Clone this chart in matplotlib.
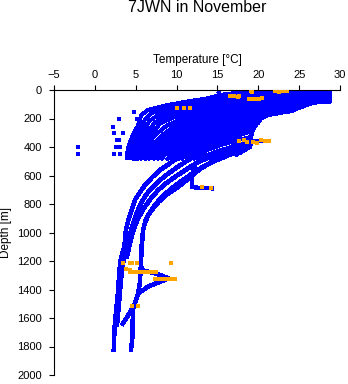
import matplotlib
matplotlib.use("Agg")
import matplotlib.pyplot as plt

plt.rcParams['font.family'] = ['Liberation Sans', 'DejaVu Sans']

title = "7JWN in November"
x_label = "Temperature [°C]"
y_label = "Depth [m]"
x_ticks = [-5, 0, 5, 10, 15, 20, 25, 30]
y_ticks = [0, 200, 400, 600, 800, 1000, 1200, 1400, 1600, 1800, 2000]

# upper-layer profiles (temperature, depth)
upper_profiles = [
    [(19.6, 0), (17, 22), (15.3, 35), (13.8, 58), (11.2, 82), (8.5, 110), (6.5, 140), (5.7, 175), (5.3, 246), (4.8, 300), (4.4, 350), (4.1, 400), (3.9, 456), (3.9, 490)],
    [(20.5, 0), (18, 30), (15.5, 55), (13, 85), (10.5, 110), (8.5, 135), (7.0, 160), (6.2, 200), (5.7, 260), (5.2, 320), (4.7, 380), (4.3, 440), (4.2, 490)],
    [(21.4, 0), (19, 30), (16.5, 60), (14, 90), (11.5, 120), (9.5, 145), (7.8, 175), (6.7, 215), (6.0, 280), (5.4, 340), (4.9, 400), (4.6, 460), (4.5, 490)],
    [(22.3, 0), (20, 30), (17.5, 65), (15, 95), (12.5, 130), (10.5, 155), (8.7, 185), (7.4, 225), (6.5, 290), (5.8, 350), (5.2, 410), (4.9, 470), (4.8, 490)],
    [(23.2, 0), (21, 30), (18.5, 65), (16, 100), (13.5, 135), (11.5, 165), (9.5, 195), (8.0, 235), (7.0, 300), (6.2, 360), (5.6, 420), (5.2, 480), (5.1, 490)],
    [(24.1, 0), (22, 30), (19.5, 65), (17, 100), (14.5, 140), (12.5, 170), (10.5, 205), (8.8, 250), (7.5, 310), (6.6, 370), (6.0, 430), (5.5, 490)],
    [(25.0, 0), (23, 30), (20.5, 70), (18, 105), (15.5, 145), (13.5, 175), (11.5, 210), (9.6, 260), (8.2, 320), (7.0, 385), (6.3, 440), (6.0, 490)],
    [(25.9, 0), (24.5, 20), (22, 55), (19.5, 90), (17, 125), (14.5, 160), (12.5, 195), (10.5, 235), (9.0, 285), (7.8, 340), (6.8, 400), (6.3, 450), (6.1, 490)],
    [(26.8, 0), (25.5, 20), (23, 55), (20.5, 90), (18, 125), (15.5, 160), (13.5, 200), (11.5, 240), (9.8, 290), (8.4, 350), (7.3, 410), (6.7, 470), (6.5, 490)],
    [(27.7, 0), (26.5, 20), (24, 55), (21.5, 90), (19, 125), (16.5, 165), (14.5, 200), (12.5, 245), (10.5, 300), (9.0, 360), (7.8, 420), (7.1, 490)],
    [(28.6, 0), (28.6, 10), (27, 30), (24.5, 65), (22, 100), (19.5, 135), (17, 170), (15, 205), (13, 250), (11, 305), (9.5, 365), (8.3, 425), (7.6, 490)],
    [(28.8, 0), (28.8, 30), (27, 55), (24.5, 90), (22, 125), (19.5, 160), (17, 195), (15, 235), (13, 280), (11.2, 330), (9.7, 390), (8.6, 450), (8.1, 490)],
    [(28.8, 0), (28.8, 55), (27, 75), (24.5, 110), (22, 145), (19.8, 175), (17.5, 210), (15.5, 250), (13.5, 295), (11.8, 345), (10.2, 405), (9.2, 460), (8.8, 490)],
    [(28.8, 0), (28.8, 82), (27.2, 86), (25.9, 103), (24.9, 126), (23.9, 150), (21.5, 170), (19.5, 200), (17.5, 235), (15.5, 275), (13.5, 320), (11.8, 370), (10.5, 420), (9.6, 470), (9.3, 490)],
    [(28.0, 0), (28.0, 60), (26.5, 95), (25, 125), (23.5, 150), (21.5, 165), (20.2, 190), (18.5, 225), (16.5, 260), (14.5, 300), (12.5, 345), (11, 400), (10, 460), (9.8, 490)],
    [(27.5, 0), (27.5, 65), (25.5, 110), (24, 140), (21, 165), (20.2, 200), (19, 225), (17, 255), (15, 290), (13, 335), (11.5, 390), (10.5, 450), (10.2, 490)],
    [(27.0, 0), (27.0, 70), (24, 150), (20.4, 170), (20.2, 215), (19.4, 243), (17.5, 275), (15.5, 310), (13.5, 350), (12, 400), (11, 450), (10.6, 490)],
    [(26.5, 0), (26.5, 80), (24, 145), (20.3, 175), (20.0, 230), (19.3, 265), (17.5, 295), (15.5, 330), (13.8, 370), (12.3, 420), (11.4, 470), (11.2, 490)],
    [(26.0, 0), (26.0, 90), (24, 140), (20.3, 180), (19.6, 240), (19.2, 290), (17.5, 320), (15.5, 355), (13.5, 395), (12, 440), (11.5, 490)],
    [(25.8, 0), (25.8, 95), (23.8, 150), (20.3, 185), (19.5, 250), (19.2, 310), (19.1, 330), (17.5, 350), (15.5, 385), (13.8, 420), (12.6, 460), (12, 490)],
    [(25.5, 0), (25.5, 100), (23, 150), (20.2, 190), (19.4, 250), (19.1, 300), (19.0, 360), (17.5, 390), (15.5, 420), (13.8, 455), (12.5, 490)],
    [(25.2, 0), (25.2, 110), (22.5, 155), (20.2, 195), (19.3, 270), (19.0, 340), (19.0, 380), (18, 400), (17, 420), (15.5, 445), (14, 475), (13.2, 495)],
    [(21.0, 355), (19.5, 360), (18.5, 375), (18.8, 400), (18.0, 430), (17.2, 460)],
    [(15.3, 0), (15.1, 20)],
    [(17.0, 5), (17.0, 40)],
    [(16.8, 5), (16.8, 45)],
]

# deep profiles (temperature, depth)
deep_profiles = [
    [(14.5, 330), (12.5, 390), (11, 440), (9.8, 490), (9.2, 514), (8.0, 561), (7.1, 608), (6.3, 655), (5.7, 702), (4.9, 772), (4.5, 842), (4.1, 912), (3.8, 982), (3.7, 1050), (3.6, 1100), (3.3, 1160), (3.1, 1207), (2.95, 1310), (2.85, 1404), (2.6, 1550), (2.45, 1636), (2.35, 1750), (2.3, 1836)],
    [(16, 350), (14, 410), (12.3, 460), (11.2, 500), (10.0, 545), (8.9, 590), (7.9, 635), (7.0, 685), (6.2, 740), (5.5, 810), (5.0, 880), (4.6, 950), (4.3, 1010), (4.0, 1080), (3.7, 1150), (3.45, 1220), (3.25, 1300), (3.1, 1400), (2.95, 1500), (2.8, 1590), (2.7, 1660)],
    [(17.5, 380), (15.5, 430), (13.5, 480), (12.2, 520), (11.0, 565), (9.8, 610), (8.7, 655), (7.7, 705), (6.8, 765), (6.0, 830), (5.3, 900), (4.8, 970), (4.5, 1030), (4.2, 1100), (3.9, 1180)],
    [(18.5, 410), (16.5, 455), (14.8, 495), (13.5, 530), (12.3, 570), (11.2, 615), (10.2, 655), (9.2, 700), (8.2, 750), (7.3, 810), (6.6, 870), (6.1, 930)],
    [(25.0, 0), (25.0, 120), (22, 155), (20.2, 200), (19.2, 290), (19.0, 398), (17.7, 442), (14.9, 468), (14.1, 512), (13, 550), (12, 595), (11.2, 635), (10.2, 680), (9.0, 725), (7.8, 785), (7.0, 840), (6.5, 880), (6.1, 940), (5.9, 982), (5.8, 1050), (5.7, 1100), (5.65, 1200), (5.6, 1263), (5.5, 1357), (5.3, 1427), (4.9, 1497), (4.7, 1530), (4.6, 1650), (4.6, 1731), (4.4, 1836)],
    [(5.9, 982), (5.75, 1100), (5.65, 1200), (5.7, 1263), (7.5, 1288), (9.0, 1322), (8.0, 1345), (6.5, 1380), (5.3, 1428), (4.9, 1497), (4.1, 1579), (3.3, 1650)],
    [(12.3, 520), (11.9, 596), (11.9, 680), (12.5, 686), (14.5, 690)],
]

# isolated blue points
stray_temps = [-2.1, -2.1, 2.2, 2.4, 3.45, 2.65, 3.0, 2.6, 3.1, 2.3, 3.1, 2.97, 4.8, 5.1, 8.0]
stray_depths = [402, 449, 257, 304, 304, 351, 351, 402, 402, 451, 451, 204, 152, 206, 129]

# flagged (orange) points
flag_temps = [16.5, 17.0, 17.5, 17.7, 18.9, 19.3, 19.7, 20.1, 20.5, 19.1, 19.2, 22.0, 22.5, 23.0, 23.5,
              10.0, 10.9, 11.6,
              17.6, 18.2, 18.6, 19.4, 19.8, 20.3, 20.8, 21.3,
              13.1, 14.2,
              3.5, 3.75, 4.3, 4.6, 5.1, 9.3, 4.3,
              4.3, 4.7, 5.1, 5.5, 5.9, 6.3, 6.7, 7.1, 7.5,
              7.3, 7.7, 8.1, 8.5, 8.9, 9.3, 9.8,
              4.6, 5.3]
flag_depths = [45, 40, 50, 45, 60, 62, 60, 62, 58, 5, 15, 5, 12, 8, 10,
               129, 129, 129,
               355, 350, 365, 362, 370, 352, 356, 358,
               683, 688,
               1216, 1258, 1216, 1216, 1216, 1216, 1263,
               1280, 1280, 1280, 1280, 1280, 1280, 1280, 1280, 1280,
               1328, 1328, 1328, 1328, 1328, 1328, 1328,
               1516, 1516]

fig = plt.figure(figsize=(3.48, 3.84), dpi=100)
ax = fig.add_axes([54 / 348, 1 - 375 / 384, (340 - 54) / 348, (375 - 90) / 384])

blue = '#0000FF'
for prof in upper_profiles:
    ts = [p[0] for p in prof]
    ds = [p[1] for p in prof]
    ax.plot(ts, ds, color=blue, lw=2.1, solid_capstyle='butt',
            solid_joinstyle='round', antialiased=False, zorder=2)
for prof in deep_profiles:
    ts = [p[0] for p in prof]
    ds = [p[1] for p in prof]
    ax.plot(ts, ds, color=blue, lw=2.5, solid_capstyle='butt',
            solid_joinstyle='round', antialiased=False, zorder=2)
ax.plot(stray_temps, stray_depths, 's', color=blue, ms=2.2, mew=0,
        antialiased=False, zorder=2)
ax.plot(flag_temps, flag_depths, 's', color='#FFA500', ms=2.4, mew=0,
        antialiased=False, zorder=3)

ax.set_xlim(-5, 30)
ax.set_ylim(2000, 0)
ax.spines['right'].set_visible(False)
ax.spines['bottom'].set_visible(False)
ax.spines['top'].set_linewidth(0.8)
ax.spines['left'].set_linewidth(0.8)
ax.xaxis.tick_top()
ax.set_xticks(x_ticks)
ax.set_yticks(y_ticks)
ax.tick_params(axis='x', direction='out', length=3.6, width=0.8, pad=3.5, labelsize=8)
ax.tick_params(axis='y', direction='out', length=3.6, width=0.8, pad=5, labelsize=8)

ax.set_xlabel(x_label, fontsize=8.5)
ax.xaxis.set_label_position('top')
ax.xaxis.set_label_coords(0.5, (375 - 60) / 285)
ax.xaxis.label.set_va('center')
ax.set_ylabel(y_label, fontsize=8.5)
ax.yaxis.set_label_coords((6 - 54) / 286, 0.5)
ax.yaxis.label.set_va('center')

fig.text(197 / 348, 1 - 8 / 384, title, ha='center', va='center', fontsize=11.5)

fig.savefig('out.png', dpi=100)
